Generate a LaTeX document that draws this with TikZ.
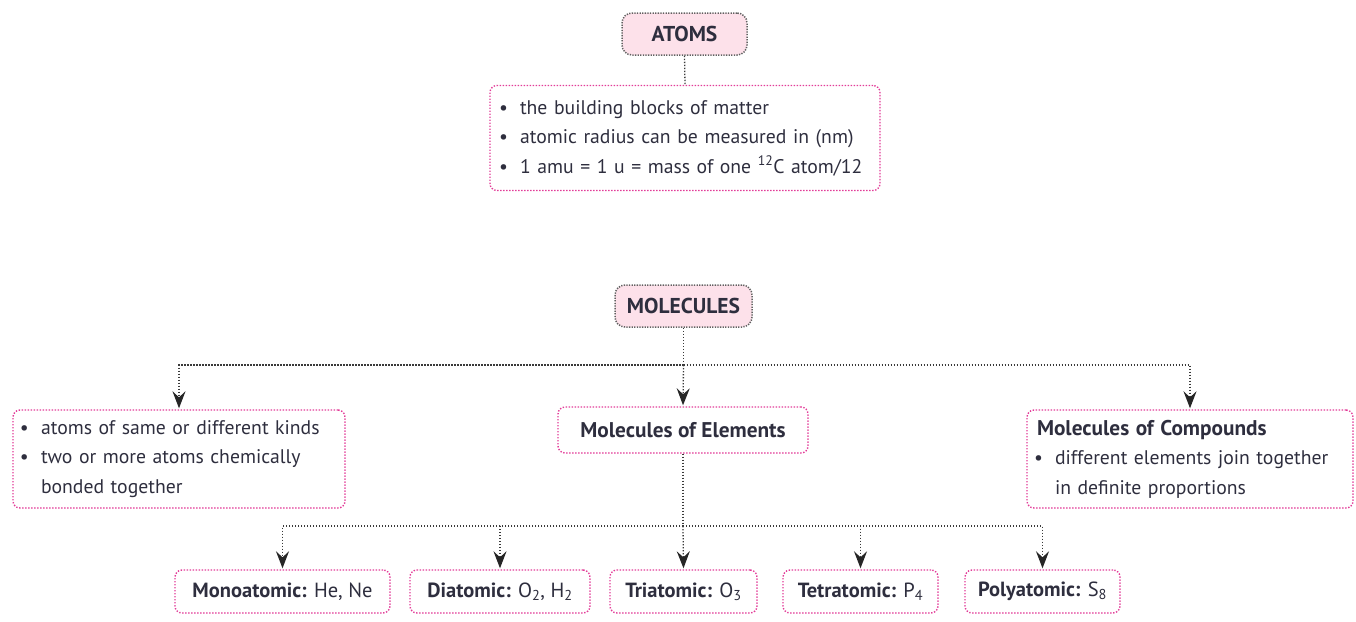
\documentclass[tikz,border=0pt]{standalone}
\usepackage{fontspec}
\setmainfont{PT Sans}
\usetikzlibrary{arrows.meta,positioning}
\definecolor{pinkline}{HTML}{E23C98}
\definecolor{pinkfill}{HTML}{FDE1EA}
\definecolor{txt}{HTML}{2E2E3E}
\definecolor{conncol}{HTML}{3A3A3A}
\newcommand{\bul}{\makebox[18pt][l]{\hspace{-3pt}\textbullet}}
\newcommand{\ind}{\hspace{18pt}}
\newcommand{\bt}[1]{{\fontsize{21.3}{22}\selectfont\bfseries #1}}
\tikzset{
  titlebox/.style={draw=conncol!80, fill=pinkfill, line width=1.5pt,
    dash pattern=on 1.3pt off 1.3pt, rounded corners=10pt,
    font=\fontsize{21.5}{22}\selectfont\bfseries, text=txt, inner sep=0pt, align=center},
  infobox/.style={draw=pinkline, line width=1.4pt, dash pattern=on 1.4pt off 1.6pt,
    rounded corners=7pt, font=\fontsize{19.7}{29.5}\selectfont, text=txt, inner sep=0pt},
  conn/.style={draw=conncol, line width=1.3pt, dash pattern=on 1.3pt off 1.7pt},
  arr/.style={conn, -{Stealth[length=17pt,width=13pt,inset=6pt,color=black!85]}, shorten >=1pt}
}
\begin{document}
\begin{tikzpicture}[x=1pt,y=-1pt]
\useasboundingbox (0,0) rectangle (1356,621);

\node[titlebox, minimum width=125pt, minimum height=42pt] (atoms) at (684.5,34) {ATOMS};

\node[infobox, minimum width=390pt, minimum height=105pt, text width=366pt, align=left] (info) at (685,138)
 {\bul the building blocks of matter\\
  \bul atomic radius can be measured in (nm)\\
  \bul 1 amu = 1 u = mass of one \textsuperscript{12}C atom/12};

\node[titlebox, minimum width=137pt, minimum height=42pt] (mol) at (683.5,306) {MOLECULES};

\node[infobox, minimum width=332pt, minimum height=98pt, text width=312pt, align=left] (left) at (179,459)
 {\bul atoms of same or different kinds\\
  \bul two or more atoms chemically\\
  \ind bonded together};

\node[infobox, minimum width=250pt, minimum height=46pt, align=center] (elem) at (683,430)
 {\bt{Molecules of Elements}};

\node[infobox, minimum width=326pt, minimum height=98pt, text width=306pt, align=left] (right) at (1190,459)
 {\bt{Molecules of Compounds}\\
  \bul different elements join together\\
  \ind in definite proportions};

\tikzset{small/.style={infobox, minimum height=43pt, align=center, font=\fontsize{20.5}{22}\selectfont}}
\node[small, minimum width=215pt] (mono)  at (282.5,591.5) {\textbf{Monoatomic:} He, Ne};
\node[small, minimum width=180pt] (di)    at (500,591.5)   {\textbf{Diatomic:} O\textsubscript{2}, H\textsubscript{2}};
\node[small, minimum width=147pt] (tri)   at (683.5,591.5) {\textbf{Triatomic:} O\textsubscript{3}};
\node[small, minimum width=155pt] (tetra) at (860.5,591.5) {\textbf{Tetratomic:} P\textsubscript{4}};
\node[small, minimum width=155pt] (poly)  at (1042.5,591.5){\textbf{Polyatomic:} S\textsubscript{8}};

% connectors
\draw[conn] (atoms.south) -- (info.north);

\coordinate (j1) at (mol.south |- 0,365);
\draw[conn] (mol.south) -- (j1);
\draw[arr] (j1) -| (left.north);
\draw[arr] (j1) -| (right.north);
\draw[arr] (j1) -- (elem.north);

\coordinate (j2) at (elem.south |- 0,526);
\draw[conn] (elem.south) -- (j2);
\draw[arr] (j2) -| (mono.north);
\draw[arr] (j2) -| (di.north);
\draw[arr] (j2) -- (tri.north);
\draw[arr] (j2) -| (tetra.north);
\draw[arr] (j2) -| (poly.north);
\end{tikzpicture}
\end{document}
